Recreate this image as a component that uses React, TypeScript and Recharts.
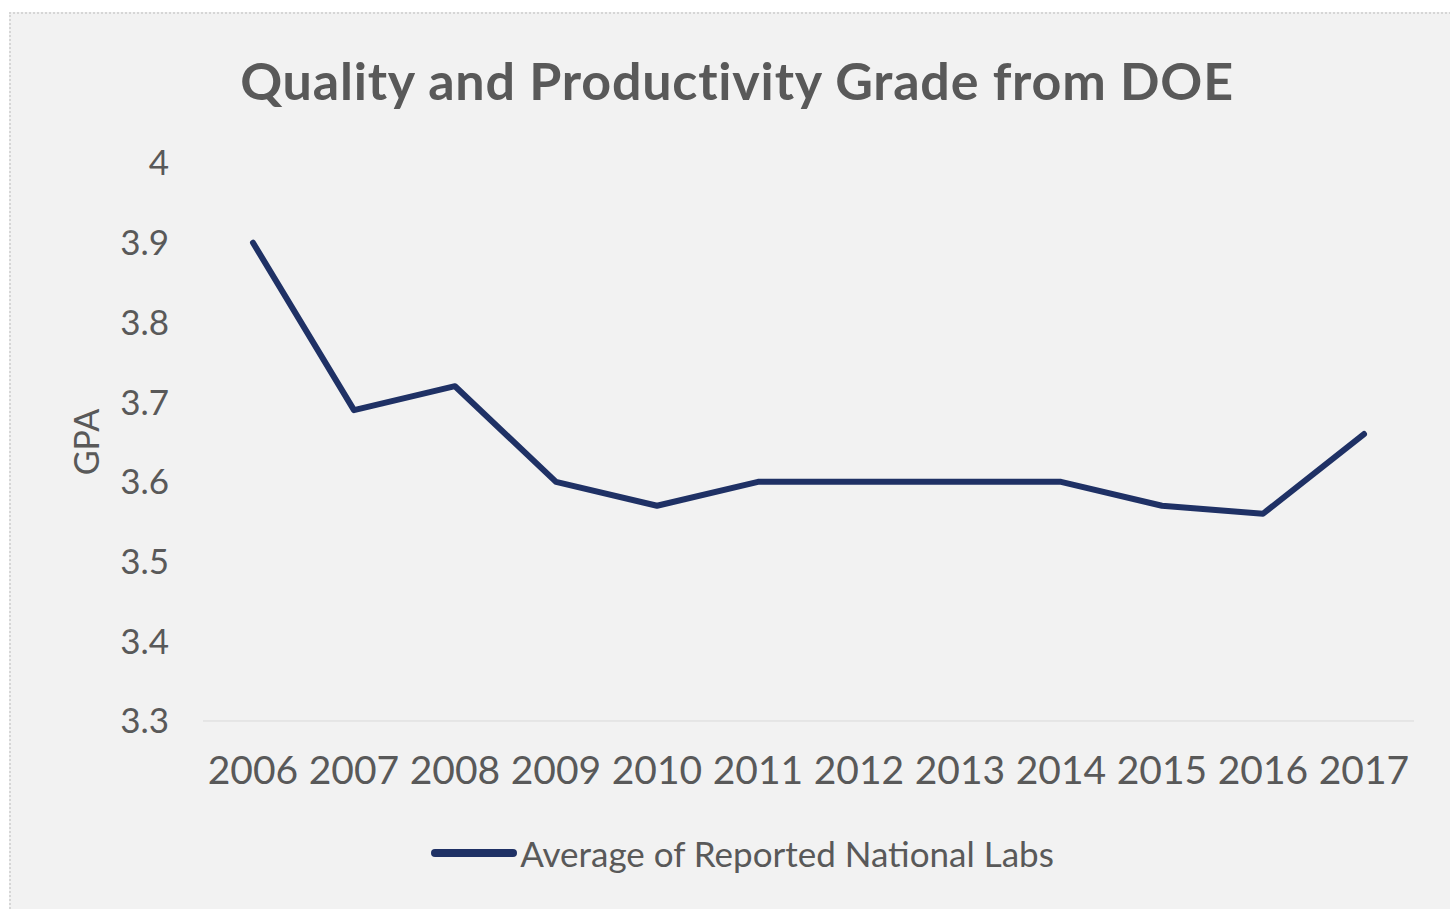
import React from "react";
import { LineChart, Line, XAxis, YAxis, Legend, Label } from "recharts";

const years = ["2006", "2007", "2008", "2009", "2010", "2011", "2012", "2013", "2014", "2015", "2016", "2017"];
const avgGpa = [3.9, 3.69, 3.72, 3.6, 3.57, 3.6, 3.6, 3.6, 3.6, 3.57, 3.56, 3.66];
const yTicks = [3.3, 3.4, 3.5, 3.6, 3.7, 3.8, 3.9, 4];

const data = years.map((year, i) => ({ year, gpa: avgGpa[i] }));

const textColor = "#595959";
const lineColor = "#1f3165";
const font = "Lato, 'Open Sans', sans-serif";

const LegendContent = () => (
  <div
    style={{
      display: "flex",
      justifyContent: "center",
      alignItems: "center",
      height: 52,
      fontFamily: font,
      fontSize: 35,
      color: textColor,
      marginLeft: 25,
    }}
  >
    <svg width={88} height={12} style={{ marginRight: 2 }}>
      <line x1={5} y1={6} x2={83} y2={6} stroke={lineColor} strokeWidth={8} strokeLinecap="round" />
    </svg>
    <span>Average of Reported National Labs</span>
  </div>
);

const GpaLabel = (props: any) => {
  const vb = props.viewBox || {};
  const cx = vb.x + 76;
  const cy = vb.y + vb.height / 2;
  return (
    <text
      x={cx}
      y={cy}
      transform={`rotate(-90, ${cx}, ${cy})`}
      textAnchor="middle"
      dominantBaseline="central"
      fill={textColor}
      fontSize={34}
      fontFamily={font}
    >
      GPA
    </text>
  );
};

export default function App() {
  return (
    <div style={{ position: "absolute", left: 0, top: 0, width: 1450, height: 909, overflow: "hidden", background: "#fff" }}>
      <div
        style={{
          position: "absolute",
          left: 9,
          top: 12,
          width: 1450,
          height: 905,
          background: "#f2f2f2",
          border: "2px dotted #d6d6d6",
          boxSizing: "border-box",
        }}
      >
        <div
          style={{
            position: "absolute",
            left: 0,
            width: 1452,
            top: 36,
            textAlign: "center",
            fontFamily: font,
            fontWeight: 700,
            fontSize: 52,
            letterSpacing: 0.8,
            color: textColor,
            lineHeight: "60px",
          }}
        >
          Quality and Productivity Grade from DOE
        </div>
        <div style={{ position: "absolute", left: -2, top: -2 }}>
          <LineChart
            width={1441}
            height={897}
            data={data}
            margin={{ top: 151, right: 36, bottom: 7, left: 0 }}
          >
            <XAxis
              dataKey="year"
              interval={0}
              padding={{ left: 50, right: 50 }}
              tickLine={false}
              tickSize={0}
              tickMargin={35}
              height={129}
              axisLine={{ stroke: "#d9d9d9", strokeWidth: 1 }}
              tick={{ fill: textColor, fontSize: 39, fontFamily: font }}
            />
            <YAxis
              domain={[3.3, 4]}
              ticks={yTicks}
              width={194}
              axisLine={false}
              tickLine={false}
              tickSize={0}
              tickMargin={34}
              tick={{ fill: textColor, fontSize: 35, fontFamily: font }}
            >
              <Label content={<GpaLabel />} />
            </YAxis>
            <Legend
              verticalAlign="bottom"
              content={<LegendContent />}
              wrapperStyle={{ top: 815, left: 0, width: 1441 }}
            />
            <Line
              type="linear"
              dataKey="gpa"
              name="Average of Reported National Labs"
              stroke={lineColor}
              strokeWidth={6}
              strokeLinejoin="round"
              strokeLinecap="round"
              dot={false}
              activeDot={false}
              isAnimationActive={false}
            />
          </LineChart>
        </div>
      </div>
    </div>
  );
}
